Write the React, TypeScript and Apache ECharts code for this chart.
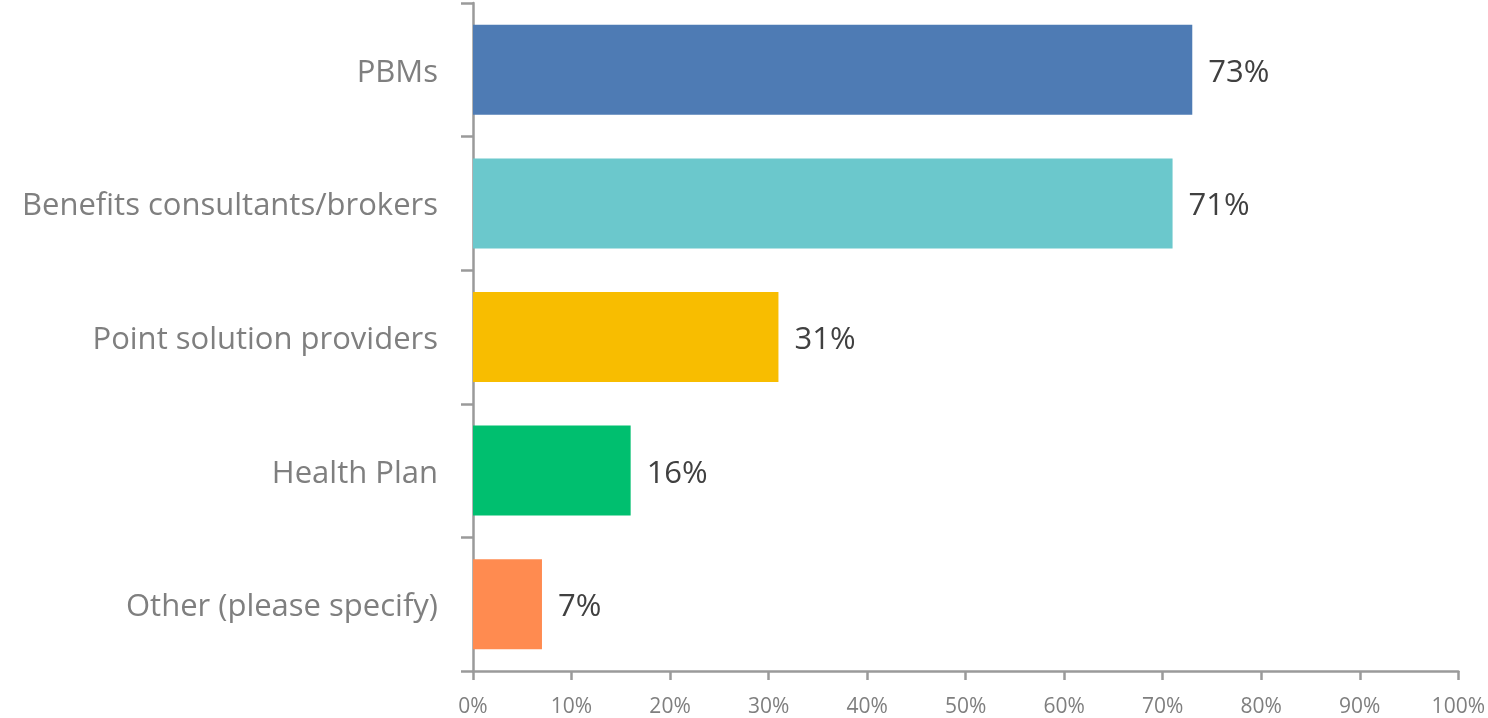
import React, { useEffect, useRef } from "react";
import * as echarts from "echarts";

const categories = ["PBMs", "Benefits consultants/brokers", "Point solution providers", "Health Plan", "Other (please specify)"];
const values = [73, 71, 31, 16, 7];
const colors = ["#4e7bb4", "#6bc8cc", "#f8bd00", "#00bf6f", "#ff8b50"];
const xTicks = [0, 10, 20, 30, 40, 50, 60, 70, 80, 90, 100];

export default function App() {
  const ref = useRef<HTMLDivElement>(null);
  useEffect(() => {
    if (!ref.current) return;
    const chart = echarts.init(ref.current, undefined, { renderer: "svg" });
    const font = "Open Sans, Noto Sans, sans-serif";
    chart.setOption({
      animation: false,
      grid: { left: 473, right: 28, top: 3, bottom: 47, containLabel: false },
      xAxis: {
        type: "value",
        min: xTicks[0],
        max: xTicks[xTicks.length - 1],
        interval: 10,
        axisLine: { show: true, lineStyle: { color: "#9a9a9a", width: 2.5 } },
        axisTick: { show: true, length: 9, lineStyle: { color: "#9a9a9a", width: 2.5 } },
        splitLine: { show: false },
        axisLabel: { formatter: "{value}%", color: "#7f7f7f", fontSize: 21, fontFamily: font, margin: 23 },
      },
      yAxis: {
        type: "category",
        data: categories,
        inverse: true,
        axisLine: { show: true, lineStyle: { color: "#9a9a9a", width: 2.5 } },
        axisTick: { show: true, length: 12, lineStyle: { color: "#9a9a9a", width: 2.5 } },
        axisLabel: { color: "#7f7f7f", fontSize: 31, fontFamily: font, margin: 35 },
      },
      series: [
        {
          type: "bar",
          barWidth: 90,
          data: values.map((v, i) => ({ value: v, itemStyle: { color: colors[i] } })),
          label: {
            show: true,
            position: "right",
            distance: 16,
            formatter: "{c}%",
            color: "#404040",
            fontSize: 31,
            fontFamily: font,
          },
        },
      ],
    });
    return () => chart.dispose();
  }, []);
  return <div ref={ref} style={{ position: "fixed", left: 0, top: 0, width: 1488, height: 718 }} />;
}
